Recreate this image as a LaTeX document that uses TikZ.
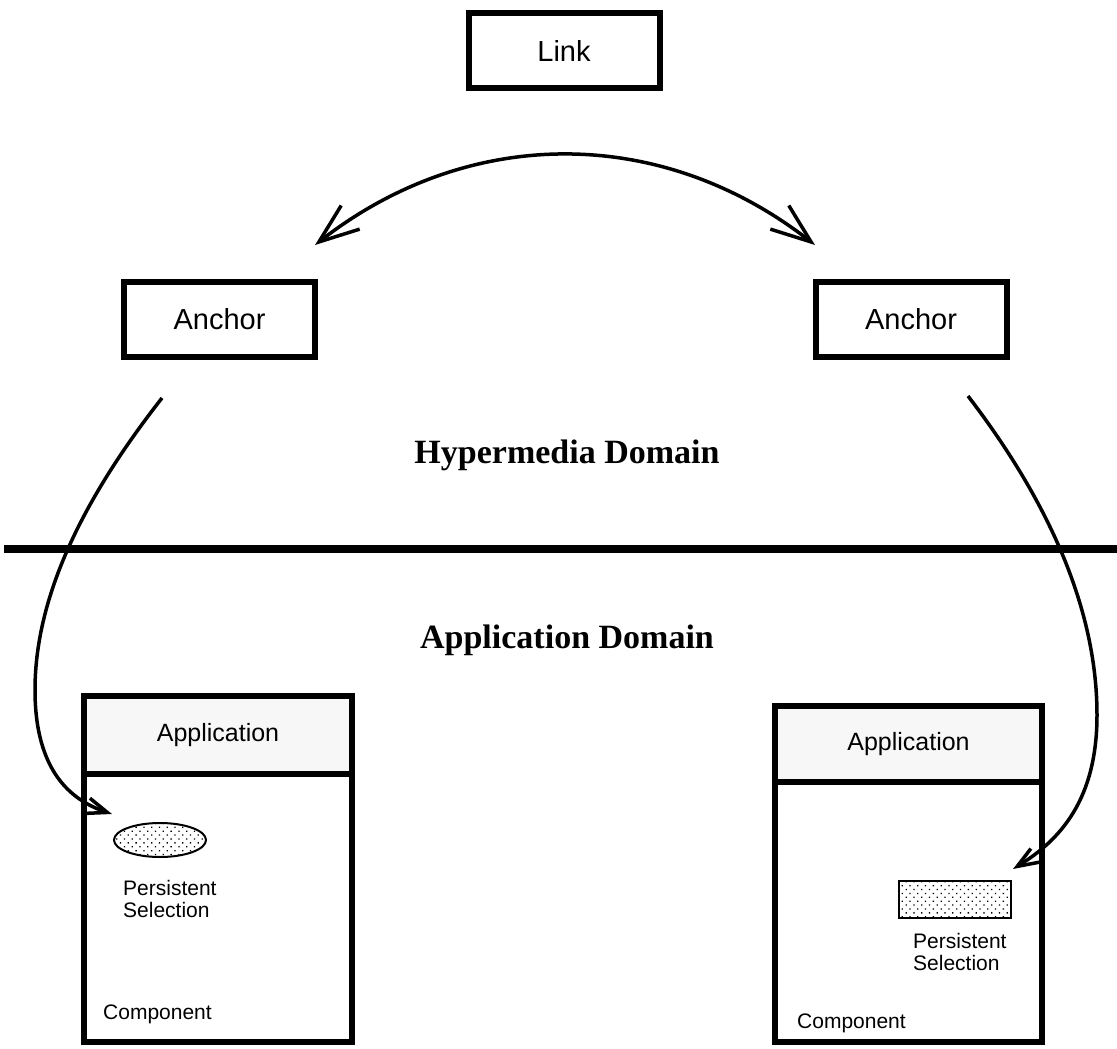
\documentclass[tikz,border=0pt]{standalone}
\usepackage{fontspec}
\setmainfont{Liberation Sans}
\newfontfamily\domfont{Liberation Serif}
\usetikzlibrary{arrows.meta,patterns.meta,shapes.geometric}
\begin{document}
\begin{tikzpicture}[x=1pt,y=-1pt,
  mybox/.style={draw,line width=6pt,minimum width=191pt,minimum height=75pt,inner sep=0pt,font=\fontsize{29}{34}\selectfont},
  hdrbox/.style={draw,line width=6pt,fill=black!3,inner sep=0pt,font=\fontsize{25}{30}\selectfont},
  compbox/.style={draw,line width=6pt,inner sep=0pt},
  smalltext/.style={inner sep=0pt,align=left,font=\fontsize{21}{22}\selectfont},
  domlabel/.style={inner sep=0pt,font=\domfont\bfseries\fontsize{34}{40}\selectfont},
  dotfill/.style={draw,line width=2pt,inner sep=0pt,pattern={Dots[radius=0.9pt,distance=5.5pt,angle=45]}},
  curveline/.style={line width=3.5pt},
  bigtip/.tip={Straight Barb[length=40pt,width=30pt]},
  smalltip/.tip={Straight Barb[length=21pt,width=16pt]}
]
\useasboundingbox (0,0) rectangle (1117,1049);

% top nodes
\node[mybox] (link) at (564,51) {Link};
\node[mybox] (anchorL) at (219.5,319) {Anchor};
\node[mybox] (anchorR) at (911,319) {Anchor};

% domain separator
\coordinate (sepL) at (4,549);
\coordinate (sepR) at (1117,549);
\draw[line width=8.5pt] (sepL) -- (sepR);

\node[domlabel] (hyper) at (567,455) {Hypermedia Domain};
\node[domlabel] (appdom) at (567,640) {Application Domain};

% left application
\node[compbox,minimum width=268pt,minimum height=268pt] (compL) at (218,908) {};
\node[hdrbox,minimum width=268pt,minimum height=78pt] (appL) at (218,735) {Application};
\node[dotfill,ellipse,minimum width=92pt,minimum height=34pt] (selL) at (160,840) {};
\node[smalltext,anchor=west] (selLtext) at (123,898.5) {Persistent\\Selection};
\node[smalltext,anchor=west] (compLtext) at (103,1014) {Component};

% right application
\node[compbox,minimum width=267pt,minimum height=260pt] (compR) at (908.5,912) {};
\node[hdrbox,minimum width=267pt,minimum height=76pt] (appR) at (908.5,744) {Application};
\node[dotfill,rectangle,minimum width=112pt,minimum height=37pt] (selR) at (955,899.5) {};
\node[smalltext,anchor=west] (selRtext) at (913,952) {Persistent\\Selection};
\node[smalltext,anchor=west] (compRtext) at (797,1023) {Component};

% link arc between anchors
\coordinate (arcL) at (315,245);
\coordinate (arcR) at (815,245);
\draw[curveline,{bigtip}-{bigtip}] (arcL) to[bend left=38] (arcR);

% anchor to selection curves
\coordinate (startL) at (162,398);
\coordinate (endL) at (112,814);
\draw[curveline,-{smalltip}] (startL) .. controls (90,490) and (35,590) .. (35,690)
  .. controls (35,770) and (70,800) .. (endL);

\coordinate (startR) at (968,396);
\coordinate (endR) at (1013,869);
\draw[curveline,-{smalltip}] (startR) .. controls (1040,490) and (1097,600) .. (1097,715)
  .. controls (1097,800) and (1060,840) .. (endR);
\end{tikzpicture}
\end{document}
